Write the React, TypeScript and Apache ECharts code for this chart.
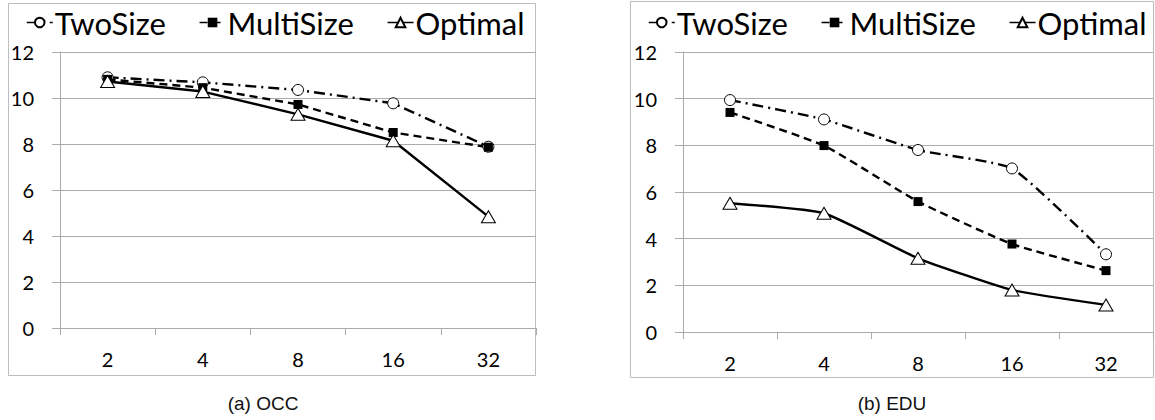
import React, { useEffect, useRef } from "react";
import * as echarts from "echarts";

const categories = ["2", "4", "8", "16", "32"];
const seriesNames = ["TwoSize", "MultiSize", "Optimal"];

const occTwoSize = [10.9, 10.68, 10.35, 9.77, 7.88];
const occMultiSize = [10.81, 10.45, 9.72, 8.5, 7.86];
const occOptimal = [10.72, 10.28, 9.29, 8.14, 4.84];

const eduTwoSize = [9.94, 9.11, 7.8, 7.01, 3.33];
const eduMultiSize = [9.41, 7.99, 5.59, 3.77, 2.63];
const eduOptimal = [5.52, 5.09, 3.16, 1.8, 1.16];

const yMin = 0;
const yMax = 12;
const yInterval = 2;

const captions = ["(a) OCC", "(b) EDU"];

const GRID = "#ababab";
const FRAME = "#bdbdbd";
const FONT = "Lato";

function makeSeries(gridIndex: number, values: number[][], smooth: number | boolean) {
  const styles = [
    {
      symbol: "circle",
      symbolSize: 11,
      itemStyle: { color: "#fff", borderColor: "#000", borderWidth: 1 },
      lineStyle: { color: "#000", width: 2.4, type: [11, 5, 2, 5] },
    },
    {
      symbol: "rect",
      symbolSize: 9,
      itemStyle: { color: "#000", borderColor: "#000", borderWidth: 0 },
      lineStyle: { color: "#000", width: 2.4, type: [8, 5] },
    },
    {
      symbol: "triangle",
      symbolSize: [14, 12],
      itemStyle: { color: "#fff", borderColor: "#000", borderWidth: 1 },
      lineStyle: { color: "#000", width: 2.4, type: "solid" },
    },
  ];
  return values.map((data, i) => ({
    name: seriesNames[i],
    type: "line",
    xAxisIndex: gridIndex,
    yAxisIndex: gridIndex,
    data,
    smooth,
    showSymbol: true,
    ...styles[i],
    emphasis: { disabled: true },
  }));
}

function yAxis(gridIndex: number) {
  return {
    type: "value",
    gridIndex,
    min: yMin,
    max: yMax,
    interval: yInterval,
    axisLine: { show: true, lineStyle: { color: GRID, width: 1 } },
    axisTick: { show: true, length: 8, inside: false, lineStyle: { color: GRID } },
    splitLine: { show: true, lineStyle: { color: GRID, width: 1 } },
    axisLabel: { color: "#000", fontSize: 20, fontFamily: FONT, margin: 26 },
  };
}

function xAxis(gridIndex: number) {
  return {
    type: "category",
    gridIndex,
    data: categories,
    boundaryGap: true,
    axisLine: { show: true, onZero: true, lineStyle: { color: GRID, width: 1 } },
    axisTick: { show: true, length: 7, alignWithLabel: false, lineStyle: { color: GRID } },
    splitLine: { show: false },
    axisLabel: { color: "#000", fontSize: 20, fontFamily: FONT, margin: 21 },
  };
}

function legend(left: number) {
  return {
    left,
    top: 7,
    padding: 0,
    orient: "horizontal",
    itemWidth: 26,
    itemHeight: 12,
    itemGap: 33,
    data: seriesNames,
    selectedMode: false,
    textStyle: { color: "#000", fontSize: 31, fontFamily: FONT, padding: [0, 0, 0, -3] },
    lineStyle: { width: 1.5 },
  };
}

export default function App() {
  const ref = useRef<HTMLDivElement>(null);
  useEffect(() => {
    if (!ref.current) return;
    const chart = echarts.init(ref.current, undefined, { renderer: "svg" });
    chart.setOption({
      animation: false,
      backgroundColor: "#fff",
      grid: [
        { left: 60, top: 52, width: 476, height: 276, containLabel: false },
        { left: 683, top: 52, width: 470, height: 280, containLabel: false },
      ],
      xAxis: [xAxis(0), xAxis(1)],
      yAxis: [yAxis(0), yAxis(1)],
      legend: [legend(26), legend(648)],
      series: [
        ...makeSeries(0, [occTwoSize, occMultiSize, occOptimal], false),
        ...makeSeries(1, [eduTwoSize, eduMultiSize, eduOptimal], 0.15),
      ],
      graphic: [
        {
          type: "rect",
          shape: { x: 8.5, y: 3.5, width: 527, height: 372 },
          style: { fill: "none", stroke: FRAME, lineWidth: 1 },
          silent: true,
          z: -10,
        },
        {
          type: "rect",
          shape: { x: 630.5, y: 1.5, width: 523, height: 376 },
          style: { fill: "none", stroke: FRAME, lineWidth: 1 },
          silent: true,
          z: -10,
        },
        {
          type: "text",
          x: 263,
          y: 403,
          style: {
            text: captions[0],
            fill: "#111",
            font: "19px 'Liberation Sans', Arial, sans-serif",
            textAlign: "center",
            textVerticalAlign: "middle",
          },
        },
        {
          type: "text",
          x: 892,
          y: 403,
          style: {
            text: captions[1],
            fill: "#111",
            font: "19px 'Liberation Sans', Arial, sans-serif",
            textAlign: "center",
            textVerticalAlign: "middle",
          },
        },
      ],
    });
    return () => chart.dispose();
  }, []);
  return (
    <div
      ref={ref}
      style={{ position: "absolute", left: 0, top: 0, width: 1155, height: 420, background: "#fff" }}
    />
  );
}
